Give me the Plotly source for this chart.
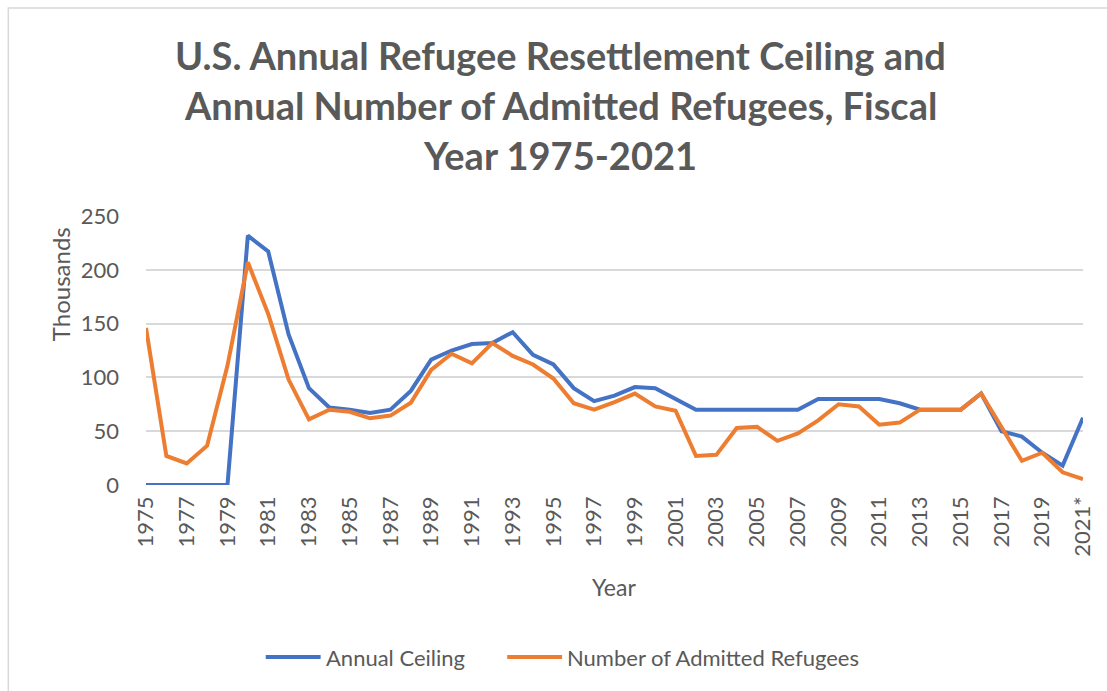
import plotly.graph_objects as go

# Fiscal years and their axis labels (2021 is partial-year data)
years = list(range(1975, 2022))
year_labels = [str(y) for y in years[:-1]] + ["2021*"]

# Annual refugee ceiling, thousands
ceiling = [0, 0, 0, 0, 0, 231.7, 217, 140, 90, 72, 70, 67, 70, 87.5, 116.5,
           125, 131, 132, 142, 121, 112, 90, 78, 83, 91, 90, 80, 70, 70, 70,
           70, 70, 70, 80, 80, 80, 80, 76, 70, 70, 70, 85, 50, 45, 30, 18, 62.5]

# Number of admitted refugees, thousands
admitted = [146, 27, 20, 36.5, 111, 207, 159, 98, 61, 70, 68, 62, 64.5, 76.5,
            107, 122, 113, 132, 120, 112, 99, 76, 70, 77, 85, 73, 69, 27, 28,
            53, 54, 41, 48, 60, 75, 73, 56, 58, 70, 70, 70, 85, 54, 22.5, 30,
            11.8, 5.4]

series_names = ["Annual Ceiling", "Number of Admitted Refugees"]
series_colors = ["#4472C4", "#ED7D31"]

y_ticks = [0, 50, 100, 150, 200, 250]
title_lines = ["U.S. Annual Refugee Resettlement Ceiling and",
               "Annual Number of Admitted Refugees, Fiscal",
               "Year 1975-2021"]

GREY = "#595959"
FONT = "Lato"

W, H = 1107, 691
L, R, T, B = 146, 22, 216, 206
plot_w = W - L - R
plot_h = H - T - B


def px_x(p):
    return (p - L) / plot_w


def px_y(p):
    return (H - B - p) / plot_h


fig = go.Figure()
for name, vals, color in zip(series_names, [ceiling, admitted], series_colors):
    fig.add_trace(go.Scatter(x=years, y=vals, mode="lines", name=name,
                             line=dict(color=color, width=4),
                             showlegend=False))

annotations = []
for line, py in zip(title_lines, [55, 105, 155]):
    annotations.append(dict(text=f"<b>{line}</b>", xref="paper", yref="paper",
                            x=px_x(561), y=px_y(py), xanchor="center",
                            yanchor="middle", showarrow=False,
                            font=dict(family=FONT, size=38, color=GREY)))
annotations.append(dict(text="Thousands", xref="paper", yref="paper",
                        x=px_x(60), y=px_y(284), xanchor="center",
                        yanchor="middle", textangle=-90, showarrow=False,
                        font=dict(family=FONT, size=24, color=GREY)))
annotations.append(dict(text="Year", xref="paper", yref="paper",
                        x=px_x(615), y=px_y(587), xanchor="center",
                        yanchor="middle", showarrow=False,
                        font=dict(family=FONT, size=23, color=GREY)))

# Legend drawn as line samples with labels beside them
shapes = [dict(type="rect", xref="paper", yref="paper",
               x0=px_x(8), x1=px_x(1112), y0=px_y(696), y1=px_y(8),
               line=dict(color="#d9d9d9", width=1.5), layer="below")]
legend_x = [(266, 321), (508, 563)]
for name, color, (x0, x1) in zip(series_names, series_colors, legend_x):
    shapes.append(dict(type="line", xref="paper", yref="paper",
                       x0=px_x(x0), x1=px_x(x1), y0=px_y(657), y1=px_y(657),
                       line=dict(color=color, width=4)))
    annotations.append(dict(text=name, xref="paper", yref="paper",
                            x=px_x(x1 + 3), y=px_y(657), xanchor="left",
                            yanchor="middle", showarrow=False,
                            font=dict(family=FONT, size=22, color=GREY)))

fig.update_layout(
    width=W, height=H,
    margin=dict(l=L, r=R, t=T, b=B),
    paper_bgcolor="white", plot_bgcolor="white",
    font=dict(family=FONT, color=GREY),
    annotations=annotations,
    shapes=shapes,
    showlegend=False,
)
fig.update_xaxes(range=[1975, 2021], tickvals=years[::2],
                 ticktext=year_labels[::2], tickangle=-90, showgrid=False,
                 zeroline=False, showline=False, ticks="",
                 tickfont=dict(family=FONT, size=22, color=GREY),
                 ticklabelstandoff=6)
fig.update_yaxes(range=[0, 250], tickvals=y_ticks, showgrid=True,
                 gridcolor="#d9d9d9", gridwidth=1.5, zeroline=False,
                 showline=False, ticks="",
                 tickfont=dict(family=FONT, size=22, color=GREY),
                 ticklabelstandoff=26)

fig.write_html("out.html")
